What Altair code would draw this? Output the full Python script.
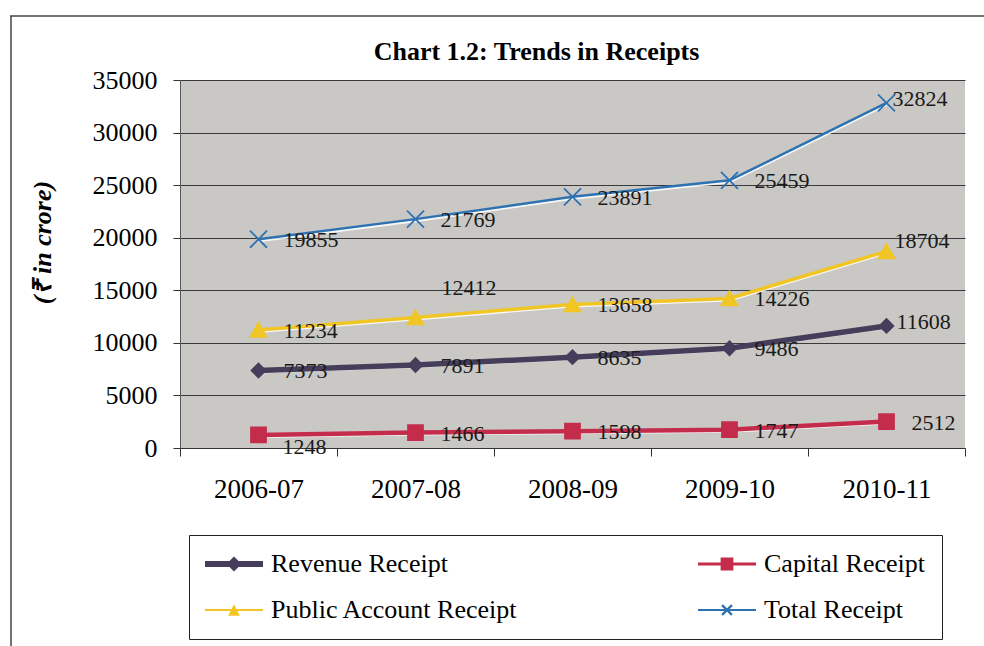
import altair as alt
import pandas as pd

# ---- data ----
years = ["2006-07", "2007-08", "2008-09", "2009-10", "2010-11"]
series_names = ["Revenue Receipt", "Capital Receipt", "Public Account Receipt", "Total Receipt"]
revenue = [7373, 7891, 8635, 9486, 11608]
capital = [1248, 1466, 1598, 1747, 2512]
public_account = [11234, 12412, 13658, 14226, 18704]
total = [19855, 21769, 23891, 25459, 32824]
y_ticks = [0, 5000, 10000, 15000, 20000, 25000, 30000, 35000]

rows = []
for name, vals in zip(series_names, [revenue, capital, public_account, total]):
    for yr, v in zip(years, vals):
        rows.append({"year": yr, "series": name, "value": v})
df = pd.DataFrame(rows)

# ---- styling ----
FONT = "Liberation Serif"
colors = ["#453e5b", "#c42c4c", "#f0c524", "#2e72b2"]
marker_shapes = ["diamond", "square", "triangle-up", "M-1,-1L1,1M1,-1L-1,1"]
marker_sizes = [190, 290, 210, 210]
line_widths = [5.5, 2.5, 3, 2.5]

# legend symbols: a horizontal line with the series marker on it
legend_paths = [
    "M-1,-0.1H1V0.1H-1Z M0,-0.26L0.26,0L0,0.26L-0.26,0Z",
    "M-1,-0.05H1V0.05H-1Z M-0.22,-0.22H0.22V0.22H-0.22Z",
    "M-1,-0.035H1V0.035H-1Z M0,-0.2L0.2,0.2L-0.2,0.2Z",
    "M-1,-0.035H1V0.035H-1Z M0.142,0.198L-0.198,-0.142L-0.142,-0.198L0.198,0.142Z "
    "M-0.142,0.198L-0.198,0.142L0.142,-0.198L0.198,-0.142Z",
]

# label offsets that differ from the default placement (layout, not data)
label_tweaks = [
    ("Capital Receipt", "2006-07", 24, 12),
    ("Public Account Receipt", "2007-08", 26, -29),
    ("Public Account Receipt", "2010-11", 8, -10),
    ("Total Receipt", "2010-11", 6, -4),
    ("Revenue Receipt", "2010-11", 10, -4),
]

x_axis = alt.Axis(
    title=None, labelFont=FONT, labelFontSize=27, labelColor="black", labelAngle=0,
    tickBand="extent", tickSize=8, tickColor="#333333", domainColor="#333333",
    labelPadding=20, grid=False,
)
y_axis = alt.Axis(
    title="(₹ in crore)", titleFont=FONT, titleFontSize=26, titleFontWeight="bold",
    titleFontStyle="italic", titleColor="black", titleAngle=270, titleX=-138, titleY=162,
    titleAlign="center", titleBaseline="middle",
    values=y_ticks, format="d", labelFont=FONT, labelFontSize=26, labelColor="black",
    labelPadding=16, tickSize=7, tickColor="#333333", domainColor="#555555",
    gridColor="#3a3a3a", gridWidth=1,
)

X = alt.X("year:N", sort=years,
          scale=alt.Scale(type="band", domain=years, paddingInner=0, paddingOuter=0),
          axis=x_axis)
Y = alt.Y("value:Q", scale=alt.Scale(domain=[0, 35000], nice=False), axis=y_axis)
cscale = alt.Scale(domain=series_names, range=colors)

base = alt.Chart(df)

shadow = base.transform_calculate(value="datum.value - 170").mark_line(
    color="white", opacity=0.85, strokeWidth=2.5
).encode(x=X, y=Y, detail="series:N")

lines = base.mark_line().encode(
    x=X, y=Y,
    color=alt.Color("series:N", scale=cscale, legend=None),
    strokeWidth=alt.StrokeWidth("series:N", scale=alt.Scale(domain=series_names, range=line_widths), legend=None),
)

points = base.mark_point(filled=True, opacity=1, strokeWidth=1.8).encode(
    x=X, y=Y,
    color=alt.Color("series:N", scale=cscale, legend=None),
    stroke=alt.Stroke("series:N", scale=cscale, legend=None),
    shape=alt.Shape("series:N", scale=alt.Scale(domain=series_names, range=marker_shapes), legend=None),
    size=alt.Size("series:N", scale=alt.Scale(domain=series_names, range=marker_sizes), legend=None),
)

def key_expr(s, y):
    return f"(datum.series == '{s}' && datum.year == '{y}')"

special = " || ".join(key_expr(s, y) for s, y, _, _ in label_tweaks)
text_kw = dict(font=FONT, fontSize=22, color="#1a1a1a", align="left", baseline="middle")
labels = [
    base.transform_filter(f"!({special})").mark_text(dx=25, dy=1, **text_kw).encode(
        x=X, y=Y, text=alt.Text("value:Q", format="d"))
]
for s, y, dx, dy in label_tweaks:
    labels.append(
        base.transform_filter(key_expr(s, y)).mark_text(dx=dx, dy=dy, **text_kw).encode(
            x=X, y=Y, text=alt.Text("value:Q", format="d"))
    )

legend = alt.Legend(
    title=None, orient="none", legendX=9, legendY=455, columns=2, direction="horizontal",
    symbolSize=3364, symbolStrokeWidth=0, symbolOpacity=1, clipHeight=26,
    labelFont=FONT, labelFontSize=26, labelColor="black", labelOffset=8, labelLimit=500,
    rowPadding=20, columnPadding=180, padding=16,
    strokeColor="#222222", fillColor="white",
)
legend_layer = base.transform_filter("datum.value < 0").mark_point(
    filled=True, opacity=1
).encode(
    x=X, y=Y,
    color=alt.Color("series:N", scale=cscale, legend=legend),
    shape=alt.Shape("series:N", scale=alt.Scale(domain=series_names, range=legend_paths), legend=legend),
)

frame_data = alt.Data(values=[{"k": 1}])
frame_top = alt.Chart(frame_data).mark_rule(color="#444444", strokeWidth=1.5).encode(
    x=alt.value(-170), x2=alt.value(804), y=alt.value(-64))
frame_left = alt.Chart(frame_data).mark_rule(color="#444444", strokeWidth=1.5).encode(
    x=alt.value(-169), y=alt.value(-64), y2=alt.value(566))

chart = alt.layer(
    shadow, lines, points, *labels, legend_layer, frame_top, frame_left
).resolve_scale(
    color="independent", shape="independent"
).properties(
    width=785, height=368,
    title=alt.TitleParams(
        "Chart 1.2: Trends in Receipts", font=FONT, fontSize=26, fontWeight="bold",
        color="black", anchor="middle", frame="group", dx=-36, offset=-50,
    ),
    autosize=alt.AutoSizeParams(type="none"),
    padding={"left": 180, "top": 80, "right": 19, "bottom": 198},
    background="white",
).configure_view(
    fill="#c9c8c4", stroke=None
)

chart.save("out.html", embed_options={"renderer": "svg", "actions": False})
